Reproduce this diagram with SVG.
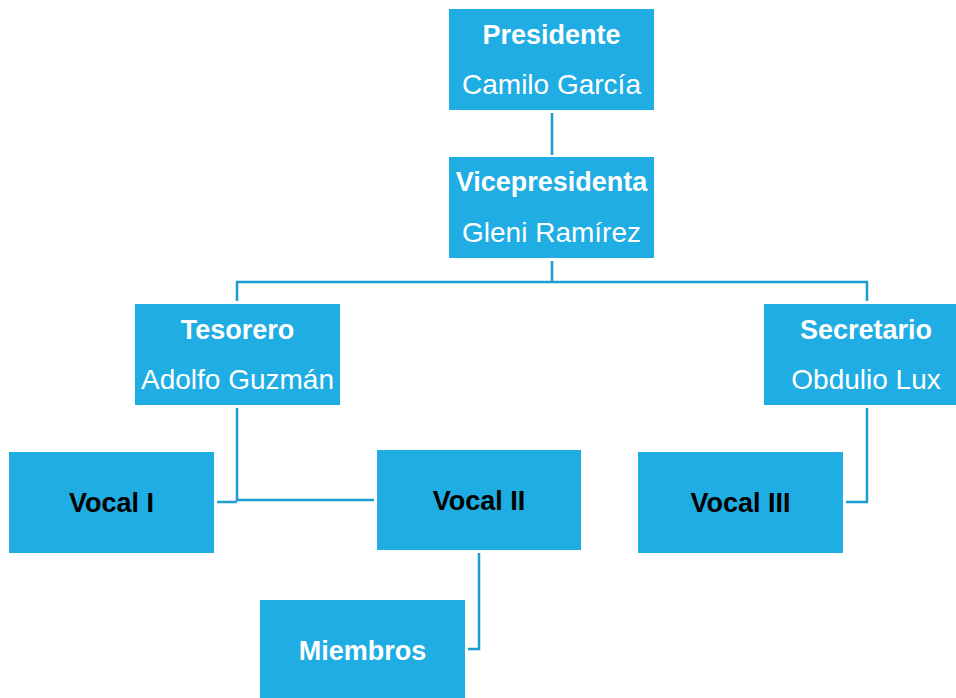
<svg xmlns="http://www.w3.org/2000/svg" width="956" height="698" viewBox="0 0 956 698">
<style>
.box{fill:#1FADE3;}
.conn{fill:none;stroke:#1E9DD4;stroke-width:2.5;}
text{font-family:"Liberation Sans",Arial,sans-serif;font-size:27px;text-anchor:middle;}
.t{font-weight:bold;fill:#fff;}
.n{fill:#fff;font-size:28px;}
.k{font-weight:bold;fill:#000;}
</style>
<rect width="956" height="698" fill="#fff"/>
<g id="connectors">
<path class="conn" d="M552,113 V155"/>
<path class="conn" d="M552,261 V282 M237,301 V282 H867 V301"/>
<path class="conn" d="M237,408 V501 M217,502 H237 M237,500 H374"/>
<path class="conn" d="M867,408 V502 H846"/>
<path class="conn" d="M479,553 V649 H468"/>
</g>
<g id="presidente">
<rect class="box" x="449" y="9" width="205" height="101"/>
<text class="t" x="551.5" y="44">Presidente</text>
<text class="n" x="551.5" y="94">Camilo García</text>
</g>
<g id="vicepresidenta">
<rect class="box" x="449" y="157" width="205" height="101"/>
<text class="t" x="551.5" y="191">Vicepresidenta</text>
<text class="n" x="551.5" y="242">Gleni Ramírez</text>
</g>
<g id="tesorero">
<rect class="box" x="135" y="304" width="205" height="101"/>
<text class="t" x="237.5" y="339">Tesorero</text>
<text class="n" x="237.5" y="389">Adolfo Guzmán</text>
</g>
<g id="secretario">
<rect class="box" x="764" y="304" width="205" height="101"/>
<text class="t" x="866" y="339">Secretario</text>
<text class="n" x="866" y="389">Obdulio Lux</text>
</g>
<g id="vocal1">
<rect class="box" x="9" y="452" width="205" height="101"/>
<text class="k" x="111.5" y="512">Vocal I</text>
</g>
<g id="vocal2">
<rect class="box" x="377" y="450" width="204" height="100"/>
<text class="k" x="479" y="510">Vocal II</text>
</g>
<g id="vocal3">
<rect class="box" x="638" y="452" width="205" height="101"/>
<text class="k" x="740.5" y="512">Vocal III</text>
</g>
<g id="miembros">
<rect class="box" x="260" y="600" width="205" height="100"/>
<text class="t" x="362.5" y="660">Miembros</text>
</g>
</svg>
